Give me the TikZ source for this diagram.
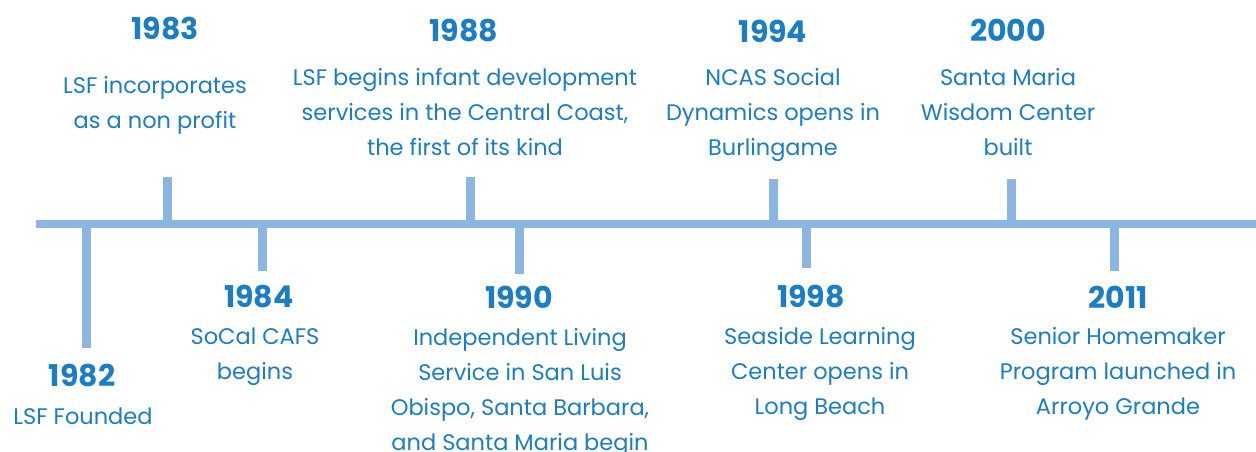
\documentclass[tikz,border=0pt]{standalone}
\usepackage{fontspec}
\setmainfont{Poppins}
\usepackage{xcolor}
\usepackage{tikz}
\usetikzlibrary{positioning}
\definecolor{lsfblue}{RGB}{27, 125, 196}
\definecolor{axisblue}{RGB}{139, 182, 225}

\tikzset{
    year/.style={text=lsfblue, font=\fontsize{30}{34}\selectfont\bfseries},
    event/.style={text=lsfblue, align=center, font=\fontsize{22.5}{35}\selectfont},
    tick/.style={draw=axisblue, line width=9pt}
}

\begin{document}
\begin{tikzpicture}[x=1pt, y=-1pt]
    \useasboundingbox (0,0) rectangle (1256,452);

    % The Time Axis
    \coordinate (axisL) at (36,224);
    \coordinate (axisR) at (1256,224);
    \draw[axisblue, line width=8pt] (axisL) -- (axisR);

    % Ticks above the axis
    \coordinate (t83) at (167,224);  \coordinate (e83) at (167,177);
    \coordinate (t88) at (470,224);  \coordinate (e88) at (470,177);
    \coordinate (t94) at (773,224);  \coordinate (e94) at (773,179);
    \coordinate (t00) at (1011,224); \coordinate (e00) at (1011,179);
    \draw[tick] (t83) -- (e83);
    \draw[tick] (t88) -- (e88);
    \draw[tick] (t94) -- (e94);
    \draw[tick] (t00) -- (e00);

    % Ticks below the axis
    \coordinate (t82) at (86,224);   \coordinate (e82) at (86,348);
    \coordinate (t84) at (262,224);  \coordinate (e84) at (262,271);
    \coordinate (t90) at (519,224);  \coordinate (e90) at (519,274);
    \coordinate (t98) at (806,224);  \coordinate (e98) at (806,268);
    \coordinate (t11) at (1114,224); \coordinate (e11) at (1114,271);
    \draw[tick] (t82) -- (e82);
    \draw[tick] (t84) -- (e84);
    \draw[tick] (t90) -- (e90);
    \draw[tick] (t98) -- (e98);
    \draw[tick] (t11) -- (e11);

    % Events above
    \node[year] (y83) at (165,29) {1983};
    \node[event] (d83) at (155,105) {LSF incorporates\\as a non profit};
    \node[year] (y88) at (464,31) {1988};
    \node[event] (d88) at (465,112) {LSF begins infant development\\services in the Central Coast,\\the first of its kind};
    \node[year] (y94) at (773,31) {1994};
    \node[event] (d94) at (773,115) {NCAS Social\\Dynamics opens in\\Burlingame};
    \node[year] (y00) at (1008,30) {2000};
    \node[event] (d00) at (1008,112) {Santa Maria\\Wisdom Center\\built};

    % Events below
    \node[year] (y82) at (82,376) {1982};
    \node[event] (d82) at (83,416) {LSF Founded};
    \node[year] (y84) at (259,297) {1984};
    \node[event] (d84) at (255,357) {SoCal CAFS\\begins};
    \node[year] (y90) at (519,297) {1990};
    \node[event] (d90) at (520,392) {Independent Living\\Service in San Luis\\Obispo, Santa Barbara,\\and Santa Maria begin};
    \node[year] (y98) at (811,297) {1998};
    \node[event] (d98) at (820,374) {Seaside Learning\\Center opens in\\Long Beach};
    \node[year] (y11) at (1118,297) {2011};
    \node[event] (d11) at (1118,374) {Senior Homemaker\\Program launched in\\Arroyo Grande};
\end{tikzpicture}
\end{document}
